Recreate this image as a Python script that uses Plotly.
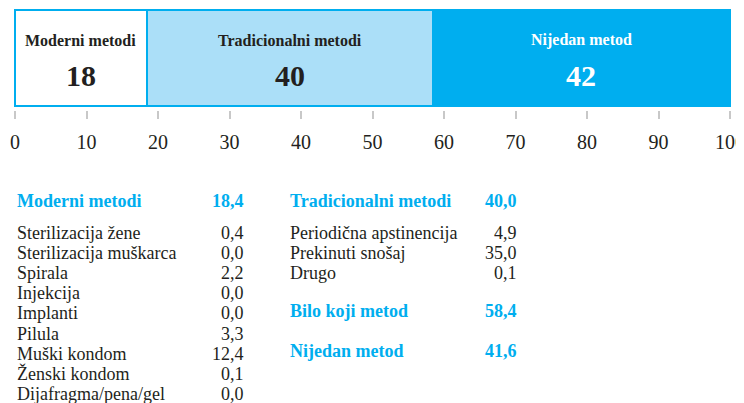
import plotly.graph_objects as go

# ---- data ----
segment_names = ["Moderni metodi", "Tradicionalni metodi", "Nijedan metod"]
segment_values = [18.4, 40.0, 41.6]
tick_values = [0, 10, 20, 30, 40, 50, 60, 70, 80, 90, 100]

modern_header = ("Moderni metodi", 18.4)
modern_items = ["Sterilizacija žene", "Sterilizacija muškarca", "Spirala", "Injekcija",
                "Implanti", "Pilula", "Muški kondom", "Ženski kondom", "Dijafragma/pena/gel"]
modern_values = [0.4, 0.0, 2.2, 0.0, 0.0, 3.3, 12.4, 0.1, 0.0]

traditional_header = ("Tradicionalni metodi", 40.0)
traditional_items = ["Periodična apstinencija", "Prekinuti snošaj", "Drugo"]
traditional_values = [4.9, 35.0, 0.1]

summary_labels = ["Bilo koji metod", "Nijedan metod"]
summary_values = [58.4, 41.6]

# ---- style ----
BLUE = "#00AEEF"
LIGHT = "#ABDFF8"
DARK = "#231F20"
FONT = "Liberation Serif, DejaVu Serif, serif"
fills = ["#FFFFFF", LIGHT, BLUE]
name_colors = [DARK, DARK, "#FFFFFF"]

# page body has an 8px default margin; geometry below is in window pixels
OFF = 8
W, H = 744, 403
PLOT_L, PLOT_R, PLOT_T, PLOT_B = 13, 732, 8, 110  # window pixels
L = PLOT_L - OFF
R = W - (PLOT_R - OFF)
T = PLOT_T - OFF
B = H - (PLOT_B - OFF)
PW = PLOT_R - PLOT_L
PH = PLOT_B - PLOT_T


def px(x):
    return (x - PLOT_L) / PW


def py(y):
    return (PLOT_B - y) / PH


def fmt(v):
    return f"{v:.1f}".replace(".", ",")


fig = go.Figure()
for name, val, fill in zip(segment_names, segment_values, fills):
    fig.add_trace(go.Bar(
        y=[0], x=[val], orientation="h", width=1,
        marker=dict(color=fill, line=dict(color=BLUE, width=2.5)),
        hoverinfo="skip", showlegend=False, name=name,
    ))

annotations = []
start = 0
for name, val, col in zip(segment_names, segment_values, name_colors):
    mid = start + val / 2
    annotations.append(dict(x=mid, xref="x", y=py(40), yref="paper", text=f"<b>{name}</b>",
                            showarrow=False, xanchor="center", yanchor="middle",
                            font=dict(family=FONT, size=16, color=col)))
    annotations.append(dict(x=mid, xref="x", y=py(75), yref="paper", text=f"<b>{round(val)}</b>",
                            showarrow=False, xanchor="center", yanchor="middle",
                            font=dict(family=FONT, size=30, color=col)))
    start += val


def add_row(xl, xr, ypix, label, value, bold=False, color=DARK, size=18):
    lt = f"<b>{label}</b>" if bold else label
    vt = f"<b>{fmt(value)}</b>" if bold else fmt(value)
    annotations.append(dict(x=px(xl), xref="paper", y=py(ypix), yref="paper", text=lt,
                            showarrow=False, xanchor="left", yanchor="middle",
                            font=dict(family=FONT, size=size, color=color)))
    annotations.append(dict(x=px(xr), xref="paper", y=py(ypix), yref="paper", text=vt,
                            showarrow=False, xanchor="right", yanchor="middle",
                            font=dict(family=FONT, size=size, color=color)))


# column 1
add_row(15, 246, 201, modern_header[0], modern_header[1], bold=True, color=BLUE, size=18)
for i, (lab, v) in enumerate(zip(modern_items, modern_values)):
    add_row(15, 246, 233 + 20.1 * i, lab, v)

# column 2
add_row(288, 519, 201, traditional_header[0], traditional_header[1], bold=True, color=BLUE, size=18)
for i, (lab, v) in enumerate(zip(traditional_items, traditional_values)):
    add_row(288, 519, 233 + 20.1 * i, lab, v)
add_row(288, 519, 311, summary_labels[0], summary_values[0], bold=True, color=BLUE, size=18)
add_row(288, 519, 351, summary_labels[1], summary_values[1], bold=True, color=BLUE, size=18)

fig.update_layout(
    width=W, height=H, autosize=False,
    margin=dict(l=L, r=R, t=T, b=B, pad=0, autoexpand=False),
    paper_bgcolor="white", plot_bgcolor="white",
    barmode="stack", bargap=0,
    xaxis=dict(range=[-0.28, 100.28], tickvals=tick_values, ticks="outside", ticklen=8,
               tickwidth=2, tickcolor="#C8C8C8", showgrid=False, zeroline=False, showline=False,
               tickfont=dict(family=FONT, size=20, color=DARK), ticklabelstandoff=6,
               ticklabeloverflow="allow", automargin=False, fixedrange=True),
    yaxis=dict(range=[-0.542, 0.521], visible=False, fixedrange=True),
    annotations=annotations,
)

fig.write_html("out.html")
